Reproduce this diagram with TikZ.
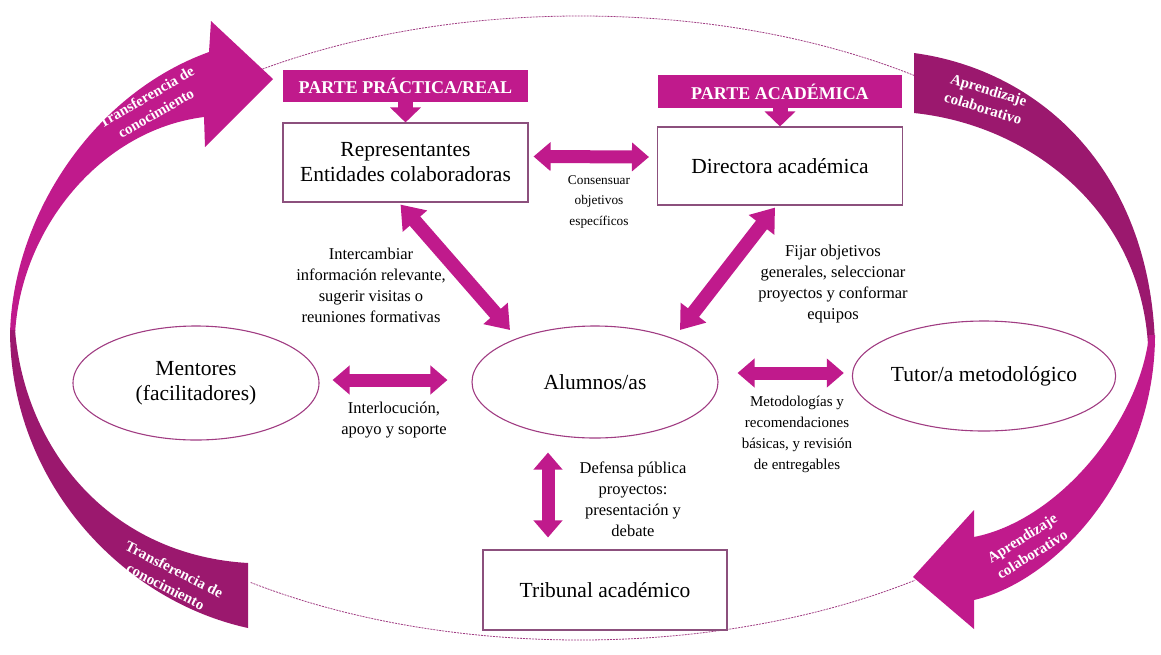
\documentclass[tikz,border=0pt]{standalone}
\usepackage{fontspec}
\setmainfont{Liberation Serif}
\usetikzlibrary{shapes.geometric,arrows.meta,calc}
\definecolor{mag}{RGB}{192,26,140}
\definecolor{dark}{RGB}{155,24,110}
\definecolor{edge}{RGB}{140,80,125}
\definecolor{elledge}{RGB}{160,60,130}
\begin{document}
\begin{tikzpicture}[x=1pt,y=-1pt,
 box/.style={draw=edge,line width=1.1pt,fill=white,minimum width=245pt,minimum height=79pt,inner sep=0pt,align=center,font=\fontsize{21.5}{25}\selectfont},
 oval/.style={ellipse,draw=elledge,line width=1.1pt,minimum width=246pt,minimum height=112pt,inner sep=0pt,align=center,font=\fontsize{21.5}{25}\selectfont},
 hdr/.style={fill=mag,text=white,font=\bfseries\fontsize{18}{20}\selectfont,minimum height=32pt,minimum width=245pt,inner sep=0pt},
 lbl/.style={align=center,font=\fontsize{16.5}{21}\selectfont},
 dbl/.style={draw=mag,line width=13pt,{Triangle[width=28pt,length=17pt]}-{Triangle[width=28pt,length=17pt]}},
 dbld/.style={draw=mag,line width=14pt,{Triangle[width=31pt,length=22pt]}-{Triangle[width=31pt,length=22pt]}},
 sgl/.style={draw=mag,line width=15pt,-{Triangle[width=30pt,length=15pt]}},
 btxt/.style={text=white,font=\bfseries\fontsize{15}{19}\selectfont,align=center,inner sep=0pt}
]
\useasboundingbox (0,0) rectangle (1161,654);
% dashed outer ellipse (only visible between the bands)
\begin{scope}
\clip (250,0) rectangle (915,654);
\draw[elledge,line width=0.8pt,dash pattern=on 2pt off 1pt] (580,328) ellipse [x radius=569, y radius=312];
\end{scope}
% bands
\fill[mag] (10,335) .. controls (12,220) and (90,95) .. (209,52) -- (211,21) -- (273,79) -- (205,147) -- (204,117)
  .. controls (100,130) and (20,230) .. (15,335) -- cycle;
\fill[dark] (914,53) .. controls (1040,70) and (1150,170) .. (1155,345) -- (1148,345)
  .. controls (1140,210) and (1030,125) .. (914,113) -- cycle;
\fill[mag] (1155,335) .. controls (1155,470) and (1060,580) .. (974,600) -- (974,629) -- (913,577) -- (974,510) -- (974,537)
  .. controls (1060,520) and (1140,420) .. (1149,335) -- cycle;
\fill[dark] (10,330) .. controls (10,480) and (120,600) .. (248,628) -- (248,563)
  .. controls (110,555) and (25,450) .. (15,330) -- cycle;
\node[btxt,rotate=30] (t1) at (151,105) {Transferencia de\\conocimiento};
\node[btxt,rotate=-17] (t2) at (986,99) {Aprendizaje\\colaborativo};
\node[btxt,rotate=-27] (t3) at (170,578) {Transferencia de\\conocimiento};
\node[btxt,rotate=32] (t4) at (1027,546) {Aprendizaje\\colaborativo};
% nodes
\node[hdr] (h1) at (405.5,86) {PARTE PRÁCTICA/REAL};
\node[box] (rep) at (405.5,162.5) {Representantes\\Entidades colaboradoras};
\node[hdr,minimum width=244pt,minimum height=33pt] (h2) at (780,91.5) {PARTE ACADÉMICA};
\node[box,minimum height=78pt] (dir) at (780,166) {Directora académica};
\node[oval] (alu) at (595,382) {Alumnos/as};
\node[oval,minimum height=114pt] (men) at (196,383) {Mentores\\(facilitadores)};
\node[oval,minimum width=248pt,minimum height=110pt] (tut) at (984,376) {Tutor/a metodológico};
\node[box,minimum width=244pt,minimum height=80pt] (tri) at (605,590) {Tribunal académico};
% connectors
\draw[sgl] (h1.south) -- (rep.north);
\draw[sgl] (h2.south) -- (dir.north);
\draw[dbl] ($(rep.east)+(5,-6)$) -- ($(dir.west)+(-8,-9)$);
\draw[dbld] ($(rep.south)+(-5,2)$) -- ($(alu.center)+(-85,-52)$);
\draw[dbld] ($(dir.south)+(-5,2)$) -- ($(alu.center)+(85,-52)$);
\draw[dbl] ($(men.east)+(13,-3)$) -- ($(alu.west)+(-24,-2)$);
\draw[dbl] ($(alu.east)+(19,-9)$) -- ($(tut.west)+(-8,-3)$);
\draw[dbl] ($(alu.south)+(-47,14)$) -- ($(tri.north)+(-57,-12)$);
% labels
\node[lbl,font=\fontsize{13.3}{20.5}\selectfont] (l1) at (599,202) {Consensuar\\objetivos\\específicos};
\node[lbl] (l2) at (371,285) {Intercambiar\\información relevante,\\sugerir visitas o\\reuniones formativas};
\node[lbl] (l3) at (833,284) {Fijar objetivos\\generales, seleccionar\\proyectos y conformar\\equipos};
\node[lbl] (l4) at (394,420) {Interlocución,\\apoyo y soporte};
\node[lbl,font=\fontsize{15}{21}\selectfont] (l5) at (797,434) {Metodologías y\\recomendaciones\\básicas, y revisión\\de entregables};
\node[lbl] (l6) at (633,499) {Defensa pública\\proyectos:\\presentación y\\debate};
\end{tikzpicture}
\end{document}
